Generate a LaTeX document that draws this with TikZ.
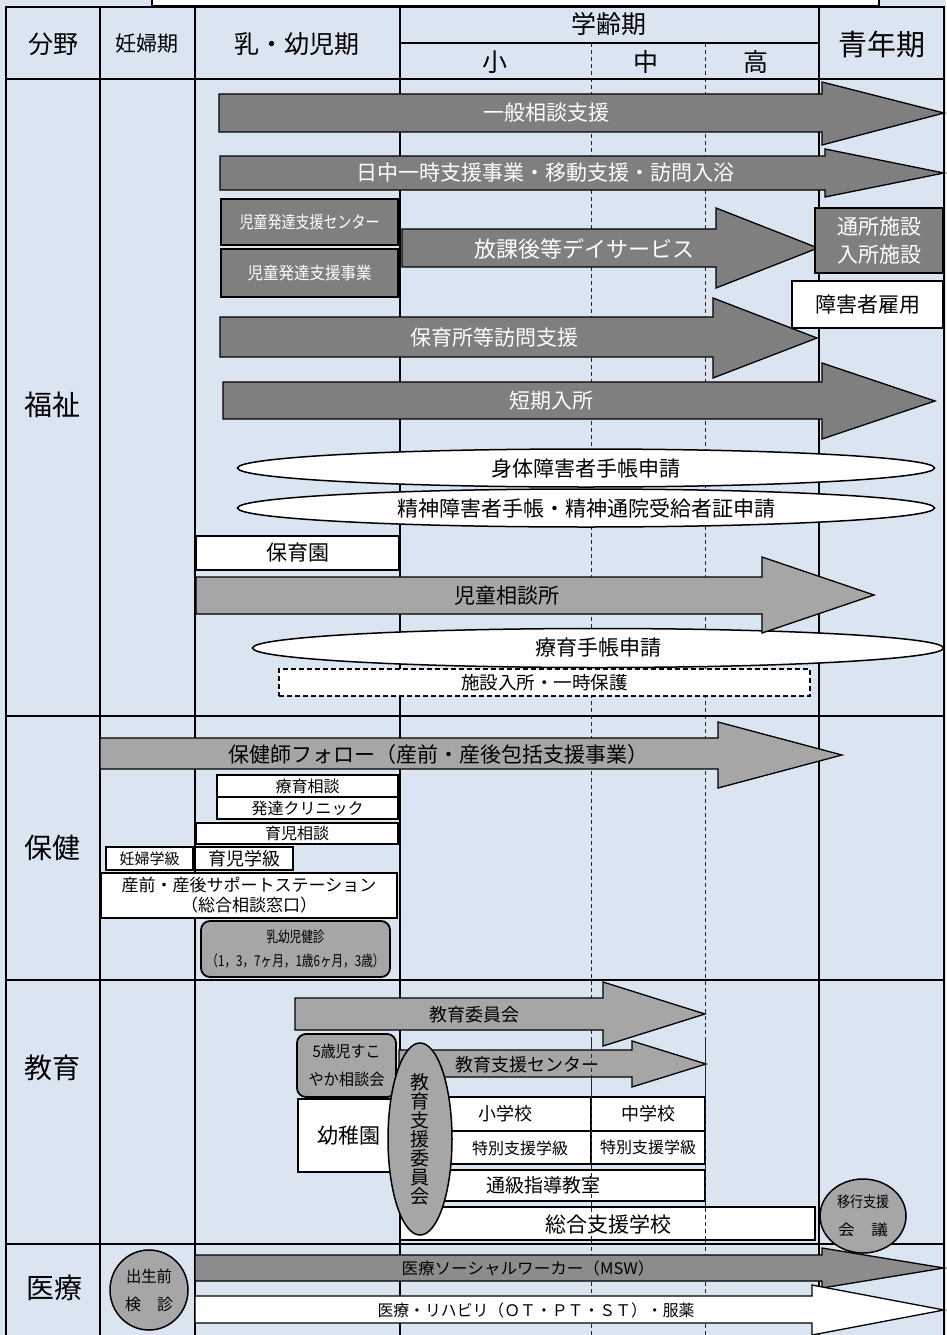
\documentclass[tikz,border=0pt]{standalone}
\usepackage{fontspec}
\setmainfont{Noto Sans CJK JP}
\usetikzlibrary{shapes.geometric}
\definecolor{bg}{RGB}{219,229,241}
\definecolor{dk}{RGB}{127,127,127}
\definecolor{lt}{RGB}{166,166,166}
\definecolor{md}{RGB}{140,140,140}
\newcommand\fsz[2]{\fontsize{#1}{#2}\selectfont}
\newcommand\fitx[2]{\resizebox{#1pt}{\height}{#2}}
\newcommand\rbox[7][]{\node[#1, minimum width={(#5)-(#3)}, minimum height={(#6)-(#4)}] (#2) at ({((#3)+(#5))/2},{((#4)+(#6))/2}) {#7};}
\tikzset{
 gridline/.style={line width=2.5pt, line cap=rect},
 dsh/.style={line width=0.8pt, dash pattern=on 4pt off 3pt, black!85},
 dkar/.style={fill=dk, draw=black, line width=1.3pt},
 ltar/.style={fill=lt, draw=black, line width=1.3pt},
 mdar/.style={fill=md, draw=black, line width=1.3pt},
 war/.style={fill=white, draw=black, line width=1.3pt},
 dkbox/.style={fill=dk, draw=black, line width=1.5pt, text=white},
 wbox/.style={fill=white, draw=black, line width=2.8pt},
 wbox2/.style={fill=white, draw=black, line width=2pt},
 dbox/.style={fill=white, draw=black, line width=1.5pt, dash pattern=on 5pt off 3pt},
 wel/.style={ellipse, fill=white, draw=black, line width=1.5pt},
 ltel/.style={ellipse, fill=lt, draw=black, line width=1.5pt},
 ltrnd/.style={fill=lt, draw=black, line width=1.8pt, rounded corners=9pt},
 wtxt/.style={text=white},
}
\begin{document}
\begin{tikzpicture}[x=1pt,y=-1pt,every node/.style={inner sep=0pt,outer sep=0pt,align=center}]
\useasboundingbox (0,0) rectangle (946,1335);
\fill[bg] (0,0) rectangle (946,1335);
% grid
\foreach \x in {591,705} \draw[dsh] (\x,43) -- (\x,1335);
\foreach \x in {6,100,195,400,819,944} \draw[gridline] (\x,7) -- (\x,1335);
\foreach \y in {7,79,716,980,1244} \draw[gridline] (6,\y) -- (944,\y);
\draw[gridline] (400,43) -- (819,43);
% top box
\draw[fill=white, line width=1.5pt] (152,-4) rectangle (879,6);
% header
\node (h1) at (53,44) {\fsz{25}{30}分野};
\node (h2) at (147,44) {\fsz{21}{25}妊婦期};
\node (h3) at (297,44) {\fsz{25}{30}乳・幼児期};
\node (h4) at (609,24) {\fsz{25}{30}学齢期};
\node (h5) at (495,62) {\fsz{25}{30}小};
\node (h6) at (646,62) {\fsz{25}{30}中};
\node (h7) at (756,62) {\fsz{25}{30}高};
\node (h8) at (882,44) {\fsz{29}{34}青年期};
% section labels
\node (s1) at (52,405) {\fsz{28}{32}福祉};
\node (s2) at (52,848) {\fsz{28}{32}保健};
\node (s3) at (52,1068) {\fsz{28}{32}教育};
\node (s4) at (54,1288) {\fsz{28}{32}医療};
% ===== 福祉 =====
\draw[dkar] (219,94) -- (822,94) -- (822,82) -- (944,113) -- (822,145) -- (822,132) -- (219,132) -- cycle;
\node[wtxt] (a1) at (546,113) {\fsz{21}{25}一般相談支援};
\draw[dkar] (220,156) -- (825,156) -- (825,149) -- (944,173) -- (825,197) -- (825,190) -- (220,190) -- cycle;
\node[wtxt] (a2) at (545,173) {\fsz{21}{25}日中一時支援事業・移動支援・訪問入浴};
\rbox[dkbox]{b1}{221}{199}{398}{245}{\fsz{17}{20}\fitx{140}{児童発達支援センター}}
\rbox[dkbox]{b2}{221}{249}{398}{297}{\fsz{17}{20}\fitx{124}{児童発達支援事業}}
\draw[dkar] (402,229) -- (716,229) -- (716,208) -- (818,248) -- (716,288) -- (716,267) -- (402,267) -- cycle;
\node[wtxt] (a3) at (584,249) {\fsz{22}{25}放課後等デイサービス};
\rbox[dkbox,font=\fsz{21}{28}]{b3}{815}{208}{943}{273}{通所施設\\入所施設}
\rbox[wbox]{b4}{792}{281}{943}{328}{\fsz{21}{25}障害者雇用}
\draw[dkar] (220,317) -- (713,317) -- (713,298) -- (817,338) -- (713,378) -- (713,357) -- (220,357) -- cycle;
\node[wtxt] (a4) at (494,337) {\fsz{21}{25}保育所等訪問支援};
\draw[dkar] (223,382) -- (822,382) -- (822,363) -- (935,401) -- (822,439) -- (822,419) -- (223,419) -- cycle;
\node[wtxt] (a5) at (551,401) {\fsz{21}{25}短期入所};
\node[wel, minimum width=697, minimum height=38] (e1) at (586,468) {\fsz{21}{25}身体障害者手帳申請};
\node[wel, minimum width=697, minimum height=38] (e2) at (586,508) {\fsz{21}{25}精神障害者手帳・精神通院受給者証申請};
\rbox[wbox]{hoikuen}{196}{536}{399}{570}{\fsz{21}{25}保育園}
\node[wel, minimum width=691, minimum height=39] (e3) at (598,648) {\fsz{21}{25}療育手帳申請};
\draw[ltar] (196,577) -- (762,577) -- (762,557) -- (874,595) -- (762,633) -- (762,614) -- (196,614) -- cycle;
\node (a6) at (507,596) {\fsz{21}{25}児童相談所};
\rbox[dbox]{shisetsu}{279}{669}{810}{696}{\fsz{18}{22}\fitx{167}{施設入所・一時保護}}
% ===== 保健 =====
\draw[ltar] (100,738) -- (718,738) -- (718,722) -- (842,755) -- (718,788) -- (718,769) -- (100,769) -- cycle;
\node (a7) at (438,755) {\fsz{21}{25}保健師フォロー（産前・産後包括支援事業）};
\rbox[wbox2]{ryoiku}{217}{775}{398}{797}{\fsz{16}{19}療育相談}
\rbox[wbox2]{hattatsu}{217}{797}{398}{819}{\fsz{16}{19}発達クリニック}
\rbox[wbox2]{ikuji}{196}{823}{398}{844}{\fsz{16}{19}育児相談}
\rbox[wbox2]{ninpu}{106}{847}{193}{870}{\fsz{15}{18}妊婦学級}
\rbox[wbox2]{ikujigk}{195}{847}{293}{870}{\fsz{18}{20}育児学級}
\rbox[wbox2,font=\fsz{17}{20}]{sanzen}{101}{873}{397}{918}{産前・産後サポートステーション\\（総合相談窓口）}
\rbox[ltrnd,font=\fsz{15}{24}]{kenshin}{201}{921}{390}{977}{\fitx{58}{乳幼児健診}\\\fitx{178}{（1，3，7ヶ月，1歳6ヶ月，3歳）}}
% ===== 教育 =====
\draw[ltar] (295,998) -- (603,998) -- (603,982) -- (705,1014) -- (603,1046) -- (603,1030) -- (295,1030) -- cycle;
\node (a8) at (474,1015) {\fsz{18}{22}教育委員会};
\rbox[ltrnd,font=\fsz{16}{28}]{gosai}{297}{1034}{396}{1097}{\fitx{68}{5歳児すこ}\\\fitx{76}{やか相談会}}
\draw[ltar] (399,1050) -- (632,1050) -- (632,1041) -- (706,1064) -- (632,1087) -- (632,1077) -- (399,1077) -- cycle;
\node (a9) at (527,1065) {\fsz{18}{22}教育支援センター};
\rbox[wbox]{yochien}{298}{1099}{400}{1172}{\fsz{21}{25}幼稚園}
\rbox[wbox]{shogakko}{400}{1097}{591}{1131}{}
\node (t1) at (505,1114) {\fsz{18}{22}小学校};
\rbox[wbox]{chugakko}{591}{1097}{705}{1131}{\fsz{18}{22}中学校}
\rbox[wbox]{toku1}{400}{1131}{591}{1164}{}
\node (t2) at (520,1148) {\fsz{16}{20}特別支援学級};
\rbox[wbox]{toku2}{591}{1131}{705}{1164}{\fsz{16}{20}特別支援学級}
\rbox[wbox]{tsukyu}{400}{1170}{705}{1201}{}
\node (t3) at (543,1185) {\fsz{19}{22}通級指導教室};
\rbox[wbox]{sogo}{400}{1207}{815}{1240}{}
\node (t4) at (608,1224) {\fsz{21}{25}総合支援学校};
\foreach \x in {591,705} \draw[dsh] (\x,1040) -- (\x,1244);
\node[ltel, minimum width=64, minimum height=192, font=\fsz{19}{19}] (iinkai) at (420,1139) {教\\育\\支\\援\\委\\員\\会};
\node[ltel, minimum width=86, minimum height=74, font=\fsz{15}{28}] (ikou) at (863,1216) {\fitx{52}{移行支援}\\\fitx{50}{会\quad 議}};
% ===== 医療 =====
\node[ltel, minimum width=78, minimum height=80, font=\fsz{16}{28}] (shussei) at (149,1290) {\fitx{46}{出生前}\\\fitx{48}{検\quad 診}};
\draw[mdar] (195,1255) -- (822,1255) -- (822,1248) -- (944,1268) -- (822,1288) -- (822,1281) -- (195,1281) -- cycle;
\node (a10) at (528,1268) {\fsz{16}{20}\fitx{253}{医療ソーシャルワーカー（MSW）}};
\draw[war] (195,1296) -- (812,1296) -- (812,1285) -- (944,1310) -- (812,1335) -- (812,1323) -- (195,1323) -- cycle;
\node (a11) at (536,1310) {\fsz{16}{20}\fitx{317}{医療・リハビリ（ＯＴ・ＰＴ・ＳＴ）・服薬}};
\end{tikzpicture}
\end{document}
